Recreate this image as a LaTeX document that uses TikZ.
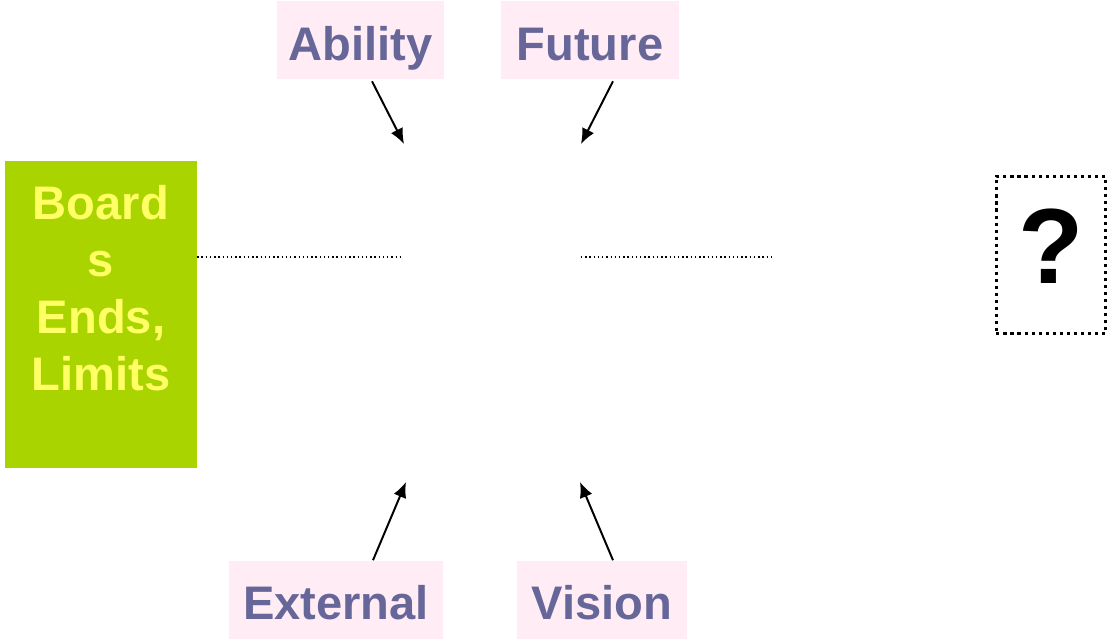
\documentclass[tikz,border=0pt]{standalone}
\usepackage{fontspec}
\setmainfont{Liberation Sans}
\usepackage{tikz}
\usetikzlibrary{positioning, arrows.meta, calc}

\definecolor{boardgreen}{RGB}{170,212,0}
\definecolor{boardyellow}{RGB}{255,255,102}
\definecolor{tagpink}{RGB}{255,236,245}
\definecolor{tagpurple}{RGB}{102,102,153}

\begin{document}
\begin{tikzpicture}[
	tag/.style={fill=tagpink, text=tagpurple, inner sep=0pt, minimum height=1.95cm,
	text height=28.5pt, text depth=0pt, font=\fontsize{33.5}{40.5}\selectfont\bfseries},
	push/.style={-{Latex[length=11pt,width=9.5pt]}, line width=1.4pt},
	link/.style={dotted, line width=1pt}
	]
	
	%Frame
	\useasboundingbox (0,0) rectangle (27.725,-16.025);
	
	%Board
	\node (board) at(2.525,-7.8625) [fill=boardgreen, minimum width=4.8cm, 
	minimum height=7.675cm, inner sep=0pt]{};
	\node (boardText) [below=0.62cm of board.north, text=boardyellow, align=center, 
	inner sep=0pt, font=\fontsize{33.5}{40.5}\selectfont\bfseries]{Board\\s\\Ends,\\Limits};
	
	%Question
	\node (question) at(26.275,-6.375) [draw, line width=2.2pt, dash pattern=on 2.2pt off 2.8pt, 
	minimum width=2.73cm, minimum height=3.93cm, inner sep=0pt, text height=55.5pt, 
	text depth=15.2pt, font=\fontsize{76}{80}\selectfont\bfseries]{?};
	
	%Links
	\coordinate (leftEnd) at(10.075,-6.425);
	\coordinate (rightStart) at(14.525,-6.425);
	\coordinate (rightEnd) at(19.275,-6.425);
	\draw[link] (leftEnd -| board.east) -- (leftEnd);
	\draw[link] (rightStart) -- (rightEnd);
	
	%Tags
	\node (ability) at(9.0125,-1) [tag, minimum width=4.175cm]{Ability};
	\node (future) at(14.75,-1) [tag, minimum width=4.45cm]{Future};
	\node (external) at(8.4,-14.9875) [tag, minimum width=5.35cm]{External};
	\node (vision) at(15.05,-14.9875) [tag, minimum width=4.25cm]{Vision};
	
	%Arrows
	\coordinate (abilityTip) at(10.1,-3.6);
	\coordinate (futureTip) at(14.525,-3.6);
	\coordinate (externalTip) at(10.15,-12.05);
	\coordinate (visionTip) at(14.5,-12.05);
	\draw[push] ([shift={(0.2875,-0.05)}]ability.south) -- (abilityTip);
	\draw[push] ([shift={(0.575,-0.05)}]future.south) -- (futureTip);
	\draw[push] ([xshift=0.925cm]external.north) -- (externalTip);
	\draw[push] ([xshift=0.275cm]vision.north) -- (visionTip);
	
\end{tikzpicture}
\end{document}
